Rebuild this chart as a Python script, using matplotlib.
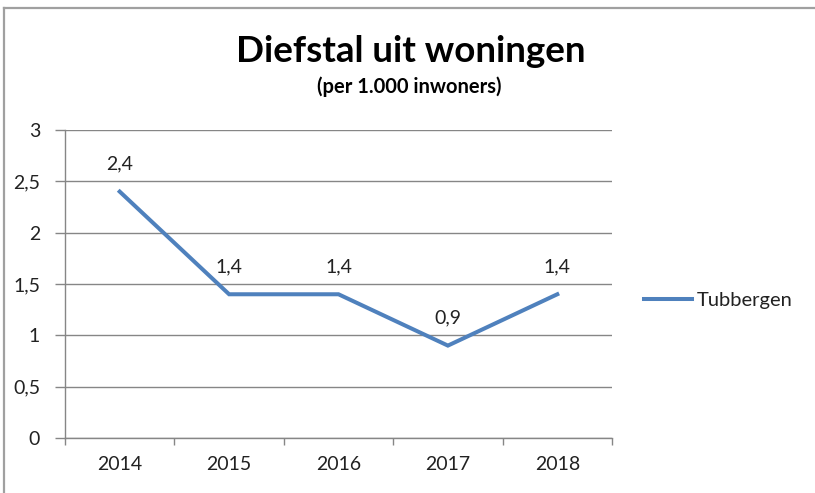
import matplotlib
matplotlib.use("Agg")
import matplotlib.pyplot as plt
from matplotlib.lines import Line2D

years = ["2014", "2015", "2016", "2017", "2018"]
values = [2.4, 1.4, 1.4, 0.9, 1.4]
value_labels = ["2,4", "1,4", "1,4", "0,9", "1,4"]
y_ticks = [0, 0.5, 1, 1.5, 2, 2.5, 3]
y_tick_labels = ["0", "0,5", "1", "1,5", "2", "2,5", "3"]
series_name = "Tubbergen"
title = "Diefstal uit woningen"
subtitle = "(per 1.000 inwoners)"

plt.rcParams['font.family'] = ['Lato', 'DejaVu Sans']

W, H = 815, 493
fig = plt.figure(figsize=(W / 100, H / 100), dpi=100)
fig.patch.set_facecolor('white')

ax = fig.add_axes([65 / W, 1 - 438 / H, (612 - 65) / W, (438 - 130) / H])
x = list(range(len(years)))
line_color = '#4F81BD'
ax.plot(x, values, color=line_color, linewidth=2.9, solid_joinstyle='miter', label=series_name, clip_on=False)

for xi, v, lab in zip(x, values, value_labels):
    ax.annotate(lab, (xi, v), xytext=(0, 20), textcoords='offset points',
                ha='center', va='center', fontsize=14, color='#222222')

ax.set_xlim(-0.5, len(years) - 0.5)
ax.set_ylim(0, 3)
ax.set_yticks(y_ticks)
ax.set_yticklabels(y_tick_labels, fontsize=14, color='#222222')
ax.set_xticks(x)
ax.set_xticklabels(years, fontsize=14, color='#222222')
ax.tick_params(axis='x', length=0, pad=13)
ax.set_xticks([i - 0.5 for i in range(len(years) + 1)], minor=True)
ax.tick_params(axis='x', which='minor', length=5, width=1, color='#868686', direction='out')
ax.tick_params(axis='y', length=7, width=1, color='#868686', pad=11, direction='out')

ax.grid(axis='y', color='#868686', linewidth=1)
ax.set_axisbelow(True)
for s in ['top', 'right']:
    ax.spines[s].set_visible(False)
for s in ['left', 'bottom']:
    ax.spines[s].set_color('#868686')
    ax.spines[s].set_linewidth(1)

fig.text(411 / W, 1 - 51 / H, title, fontsize=26.5, fontweight='bold', ha='center', va='center', color='#000000')
fig.text(409 / W, 1 - 87 / H, subtitle, fontsize=14.5, fontweight='bold', ha='center', va='center', color='#000000')

leg = fig.legend(loc='center left', bbox_to_anchor=(636 / W, 1 - 300 / H), frameon=False,
                 fontsize=14.5, handlelength=2.4, handletextpad=0.2, borderaxespad=0)
for t in leg.get_texts():
    t.set_color('#222222')

fig.add_artist(Line2D([3.5 / W, 3.5 / W], [0, 1 - 7.5 / H], transform=fig.transFigure, color='#A0A0A0', linewidth=1.6))
fig.add_artist(Line2D([3.5 / W, 1], [1 - 7.5 / H, 1 - 7.5 / H], transform=fig.transFigure, color='#A0A0A0', linewidth=1.6))

fig.savefig('out.png', dpi=100)
